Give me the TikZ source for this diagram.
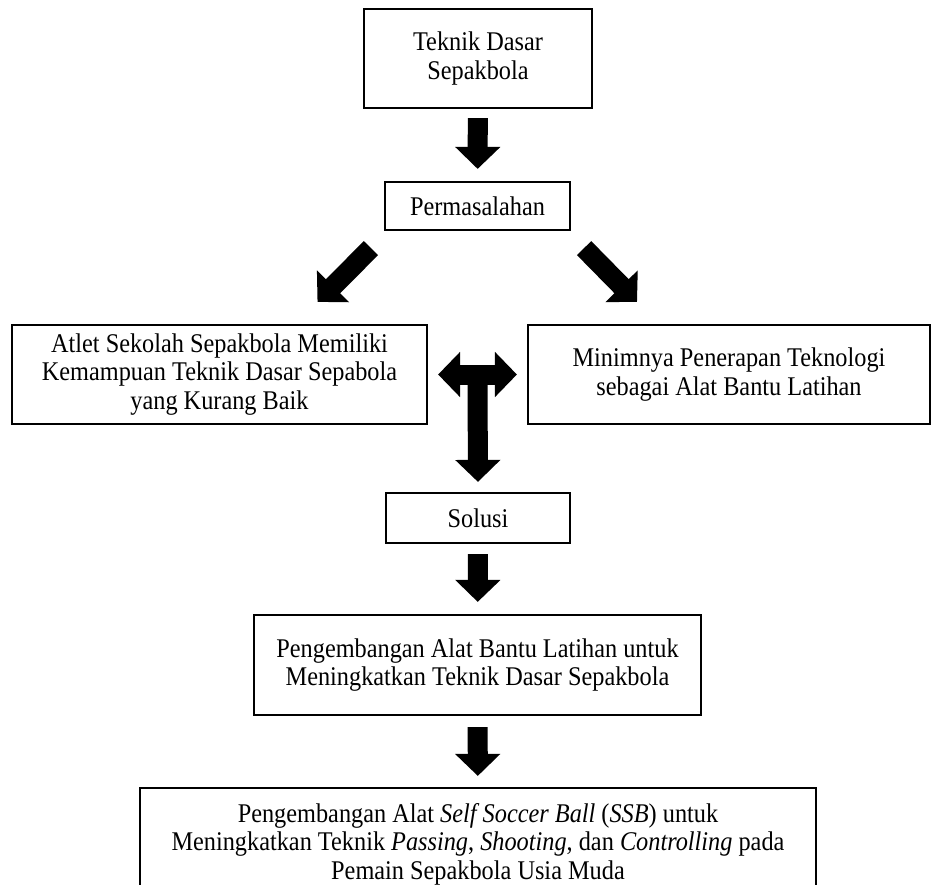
\documentclass[tikz,border=0pt]{standalone}
\usepackage{fontspec}
\setmainfont{Liberation Serif}[FakeStretch=0.9]
\usetikzlibrary{arrows.meta}
\begin{document}
\begin{tikzpicture}[x=1pt,y=-1pt,>={Triangle[length=22pt,width=44pt]}, font=\fontsize{27}{28.5}\selectfont, line join=miter,
	box/.style={draw,line width=2.2pt,align=center,inner sep=0pt},
	blockarrow/.style={line width=20pt}]
	\clip (0,0) rectangle (933,884);
	\path
	(478,58.5) node[box,minimum width=228pt,minimum height=99pt] (dasar) {Teknik Dasar\\Sepakbola}
	(477.5,206) node[box,minimum width=185pt,minimum height=48pt] (masalah) {Permasalahan}
	(219.5,374.5) node[box,minimum width=415pt,minimum height=99pt] (atlet) {Atlet Sekolah Sepakbola Memiliki\\Kemampuan Teknik Dasar Sepabola\\yang Kurang Baik}
	(729,374.5) node[box,minimum width=402pt,minimum height=99pt] (teknologi) {Minimnya Penerapan Teknologi\\sebagai Alat Bantu Latihan}
	(478,518) node[box,minimum width=184pt,minimum height=50pt] (solusi) {Solusi}
	(477.5,665) node[box,minimum width=447pt,minimum height=100pt] (alat) {Pengembangan Alat Bantu Latihan untuk\\Meningkatkan Teknik Dasar Sepakbola}
	(478,844) node[box,minimum width=676pt,minimum height=112pt] (ssb) {Pengembangan Alat \textit{Self Soccer Ball} (\textit{SSB}) untuk\\Meningkatkan Teknik \textit{Passing}, \textit{Shooting}, dan \textit{Controlling} pada\\Pemain Sepakbola Usia Muda}
	;
	% panah
	\draw[blockarrow,->,shorten <=9pt,shorten >=12pt] (dasar) -- (masalah);
	\draw[blockarrow,->] ([shift={(-13,17)}]masalah.south west) -- ([shift={(98,-22)}]atlet.north);
	\draw[blockarrow,->] ([shift={(13,17)}]masalah.south east) -- ([shift={(-92,-22)}]teknologi.north);
	\draw[blockarrow,<->,shorten <=10pt,shorten >=10pt] (atlet.east) -- (teknologi.west) coordinate[midway] (tengah);
	\draw[blockarrow,->,shorten >=10pt] (tengah) -- (solusi.north);
	\draw[blockarrow,->,shorten <=10pt,shorten >=12pt] (solusi) -- (alat);
	\draw[blockarrow,->,shorten <=11pt,shorten >=11pt] (alat) -- (ssb);
\end{tikzpicture}
\end{document}
